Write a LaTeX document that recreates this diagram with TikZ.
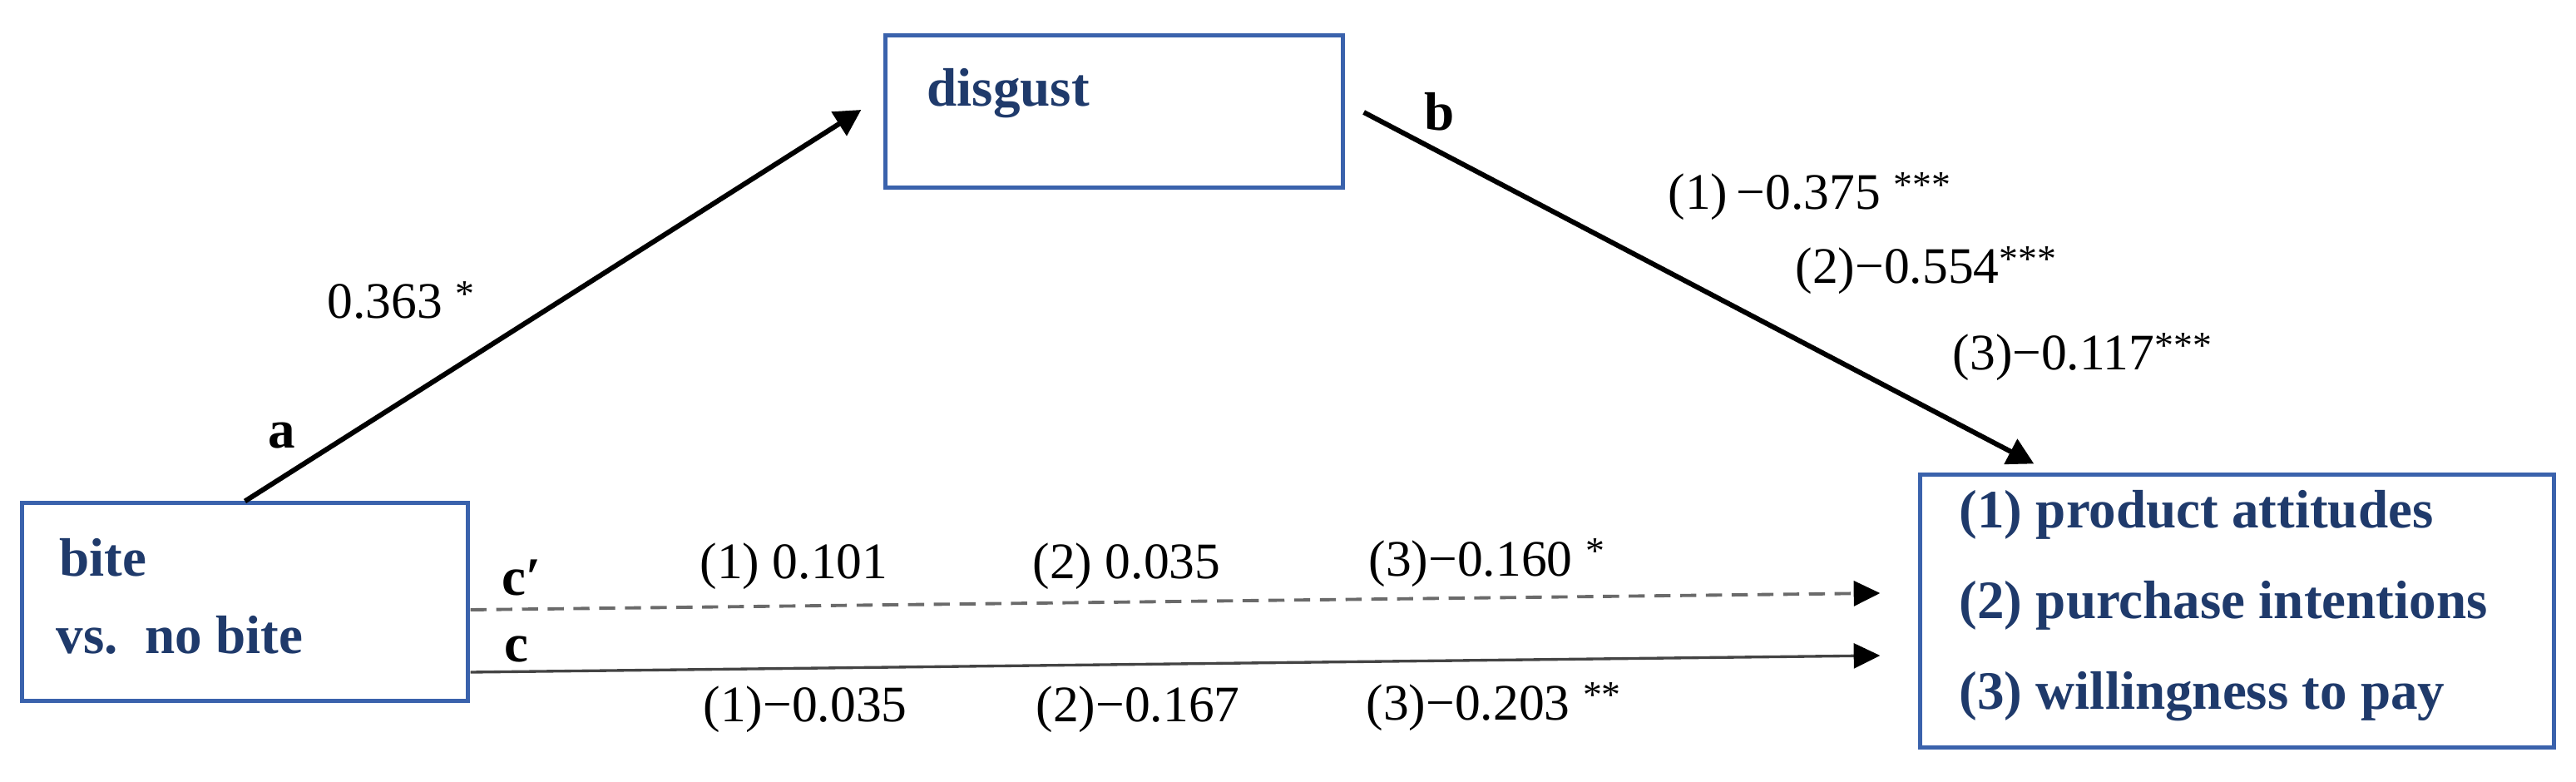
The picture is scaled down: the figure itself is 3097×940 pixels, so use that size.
\documentclass[tikz,border=0pt]{standalone}
\usepackage{fontspec}
\setmainfont{Liberation Serif}
\usetikzlibrary{arrows.meta,calc}
\definecolor{boxblue}{HTML}{3A62AC}
\definecolor{navy}{HTML}{1F3A6B}
\definecolor{dashgrey}{HTML}{6A6A6A}
\definecolor{linegrey}{HTML}{444444}
\newcommand{\sigstar}[1]{\raisebox{4pt}{\fontsize{13}{13}\selectfont #1}}
\begin{document}
\begin{tikzpicture}[x=0.01cm,y=-0.01cm,
  vbox/.style={draw=boxblue,line width=1.4pt,fill=white,inner sep=0pt},
  boxtext/.style={font=\bfseries\fontsize{18.5}{22}\selectfont,text=navy,anchor=base west,inner sep=0pt},
  pathlabel/.style={font=\bfseries\fontsize{18.5}{22}\selectfont,anchor=base west,inner sep=0pt},
  coef/.style={font=\fontsize{17.5}{20}\selectfont,anchor=base west,inner sep=0pt},
  bigarrow/.style={line width=1.7pt,-{Triangle[length=9pt,width=9.4pt]}},
  dasharrow/.style={dashgrey,line width=1.1pt,dash pattern=on 5.5pt off 3.3pt,-{Triangle[length=9pt,width=8.5pt,color=black]}},
  solidarrow/.style={linegrey,line width=0.95pt,-{Triangle[length=9pt,width=8.5pt,color=black]}}]
\useasboundingbox (0,0) rectangle (3097,940);

% boxes
\node[vbox,minimum width=5.35cm,minimum height=2.37cm] (bite) at (294.5,723.5) {};
\node[vbox,minimum width=5.49cm,minimum height=1.82cm] (disgust) at (1339.5,134) {};
\node[vbox,minimum width=7.61cm,minimum height=3.27cm] (outcome) at (2689.5,734.5) {};

% box texts
\node[boxtext] (t-bite) at (71,692) {bite};
\node[boxtext] (t-vs) at (67,785) {vs.\ \ no bite};
\node[boxtext] (t-disgust) at (1114,128) {disgust};
\node[boxtext] (t-o1) at (2355,634) {(1) product attitudes};
\node[boxtext] (t-o2) at (2355,743) {(2) purchase intentions};
\node[boxtext] (t-o3) at (2355,852) {(3) willingness to pay};

% connectors
\draw[bigarrow] (bite.north) -- ($(disgust.west)+(-27,-2)$);
\draw[bigarrow] ($(disgust.east)+(23,1)$) -- ($(outcome.north west)+(139,-11)$);
\draw[dasharrow] ($(bite.east)+(1,9.5)$) -- ($(outcome.west)+(-46,-21.5)$);
\draw[solidarrow] ($(bite.east)+(1,84.5)$) -- ($(outcome.west)+(-46,53.5)$);

% path labels
\node[pathlabel] (l-a) at (322,538) {a};
\node[pathlabel] (l-b) at (1712,157) {b};
\node[pathlabel] (l-cp) at (603,715) {c′};
\node[pathlabel] (l-c) at (606,795) {c};

% coefficients
\node[coef] (k-a) at (393,383) {0.363 \sigstar{*}};
\node[coef] (k-b1) at (2005,252) {(1)\,−0.375 \sigstar{***}};
\node[coef] (k-b2) at (2158,341) {(2)−0.554\sigstar{***}};
\node[coef] (k-b3) at (2347,445) {(3)−0.117\sigstar{***}};
\node[coef] (k-cp1) at (841,695) {(1) 0.101};
\node[coef] (k-cp2) at (1241,695) {(2) 0.035};
\node[coef] (k-cp3) at (1645,692) {(3)−0.160 \sigstar{*}};
\node[coef] (k-c1) at (845,867) {(1)−0.035};
\node[coef] (k-c2) at (1245,867) {(2)−0.167};
\node[coef] (k-c3) at (1642,865) {(3)−0.203 \sigstar{**}};
\end{tikzpicture}
\end{document}
